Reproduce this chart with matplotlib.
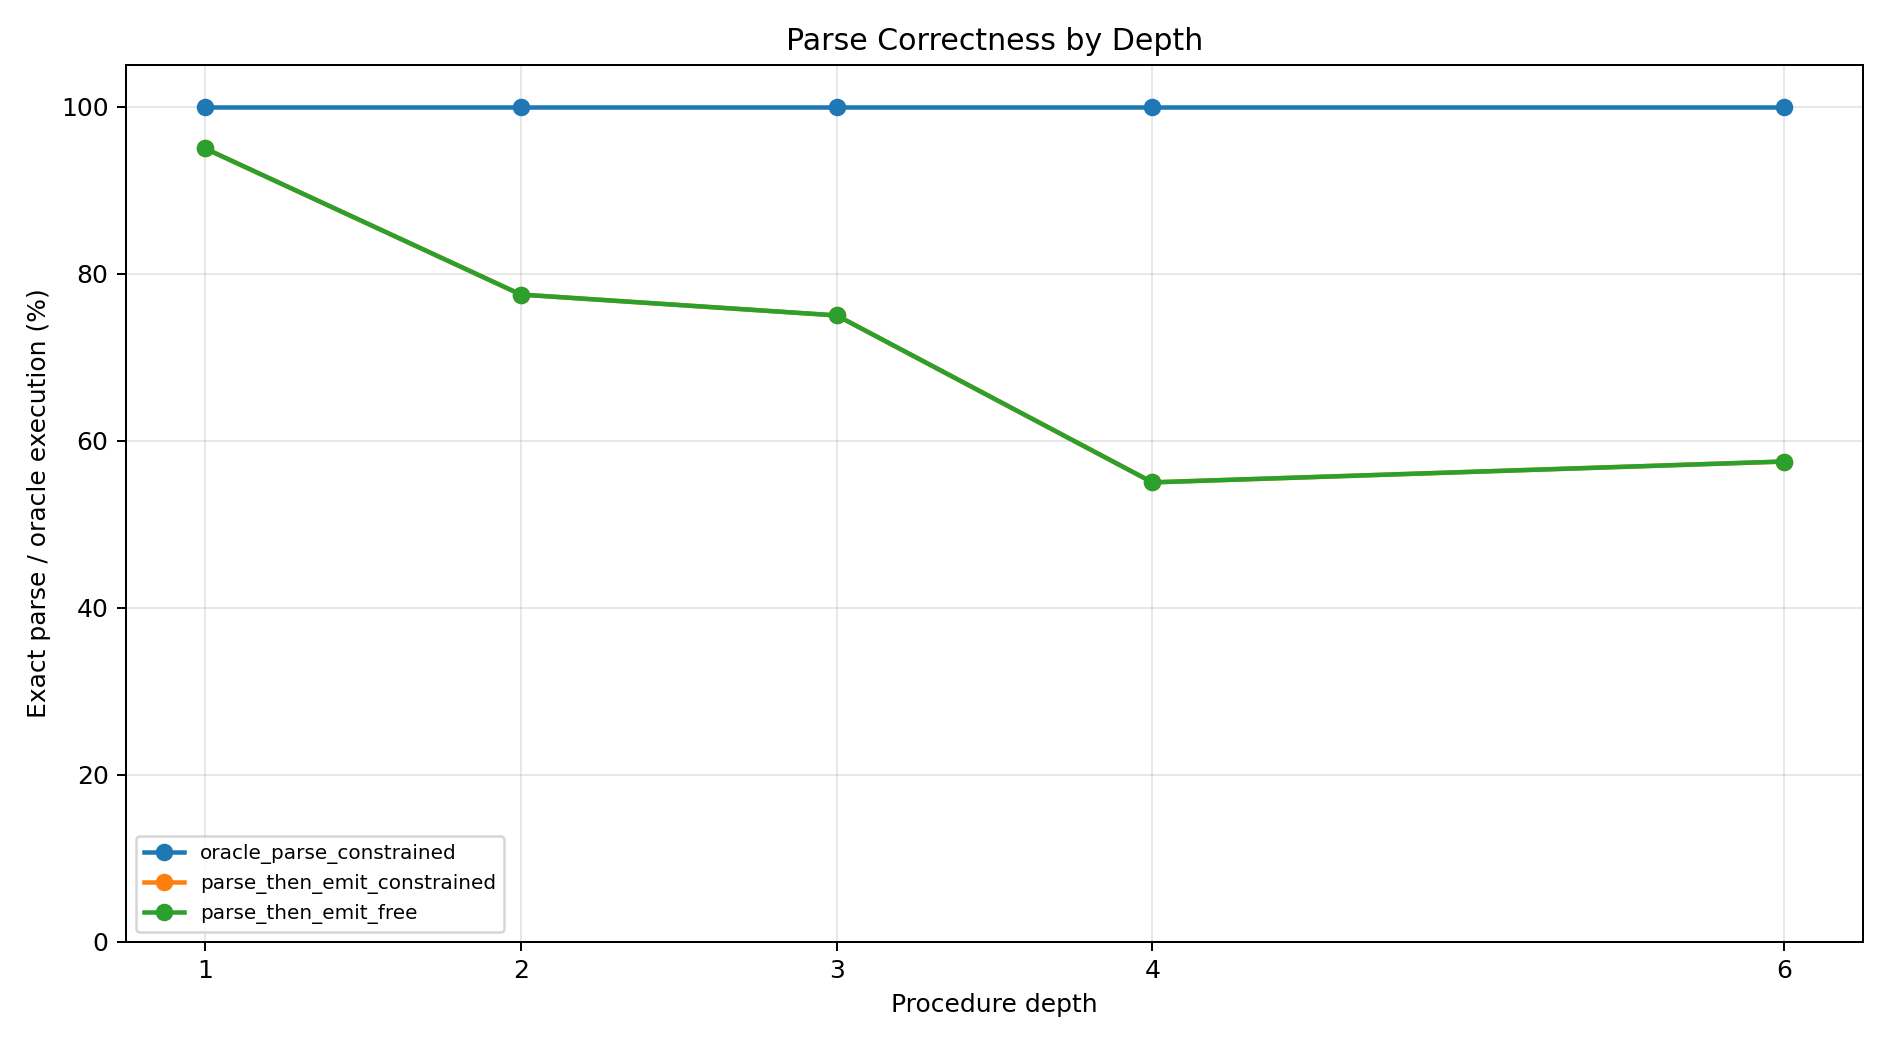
import matplotlib
matplotlib.use("Agg")
import matplotlib.pyplot as plt

depths = [1, 2, 3, 4, 6]
oracle_parse_constrained = [100, 100, 100, 100, 100]
parse_then_emit_constrained = [95, 77.5, 75, 55, 57.5]
parse_then_emit_free = [95, 77.5, 75, 55, 57.5]

series = [
    ("oracle_parse_constrained", oracle_parse_constrained),
    ("parse_then_emit_constrained", parse_then_emit_constrained),
    ("parse_then_emit_free", parse_then_emit_free),
]

fig, ax = plt.subplots(figsize=(10.5, 5.8), dpi=180)
for name, vals in series:
    ax.plot(depths, vals, marker="o", linewidth=1.8, label=name)

ax.set_xticks(depths)
ax.set_ylim(0, 105)
ax.set_xlabel("Procedure depth")
ax.set_ylabel("Exact parse / oracle execution (%)")
ax.set_title("Parse Correctness by Depth")
ax.grid(True, alpha=0.3)
ax.legend(loc="lower left", fontsize=8)
fig.tight_layout()
fig.savefig("out.png", dpi=180)
